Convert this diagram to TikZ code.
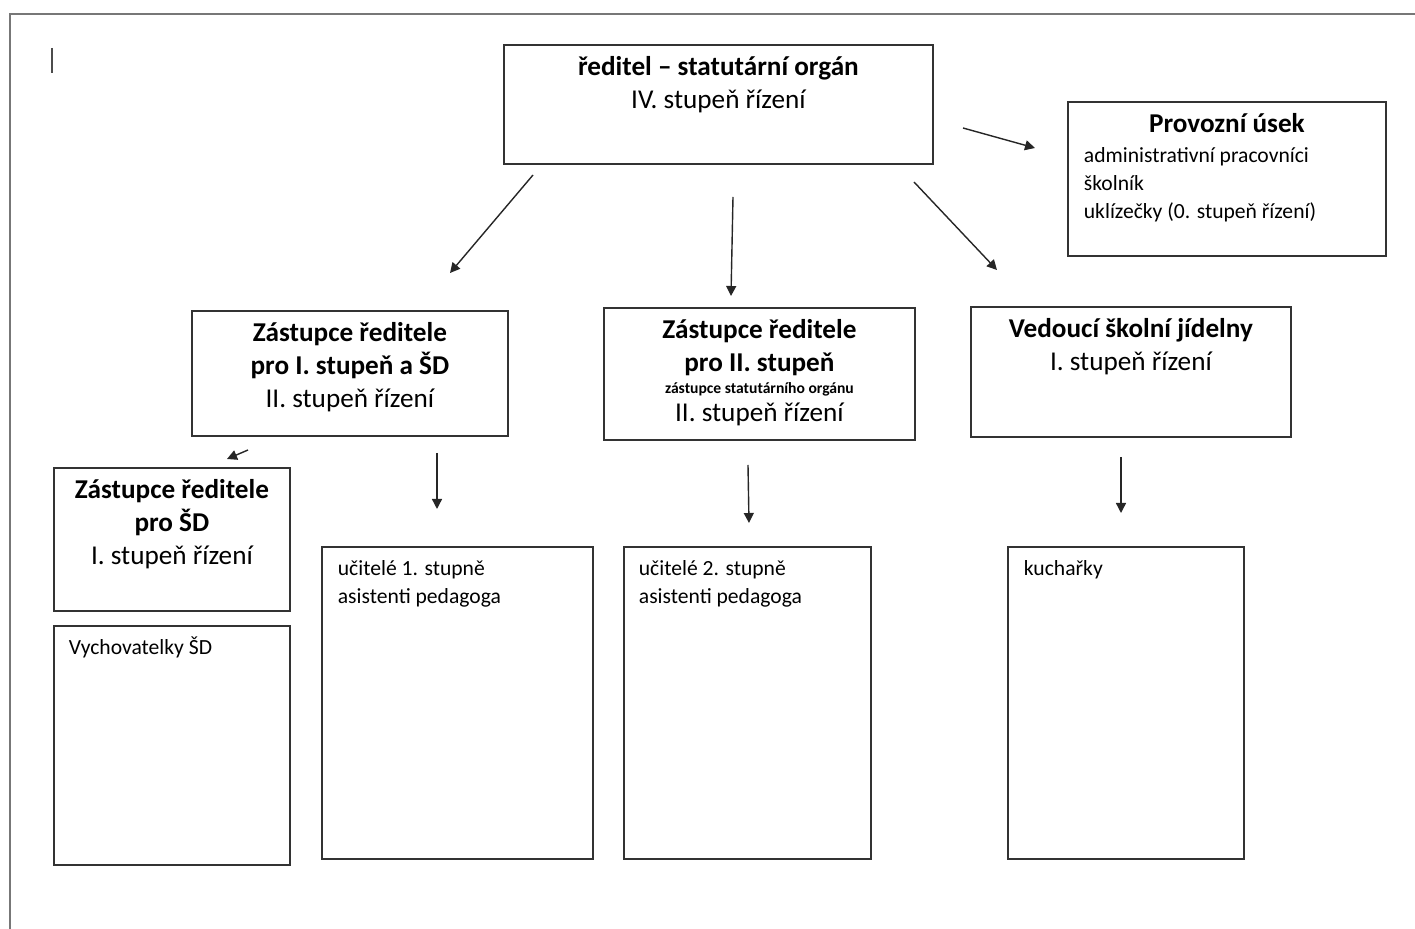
\documentclass[tikz,border=0pt]{standalone}
\usepackage{fontspec}
\setmainfont{Carlito}
\usetikzlibrary{arrows.meta,calc}

\definecolor{ramgray}{HTML}{777777}
\newcommand{\velky}{\fontsize{13.6}{16.5}\selectfont}
\newcommand{\maly}{\fontsize{10.8}{14}\selectfont}
\newcommand{\drobny}{\fontsize{7.8}{11}\selectfont}
\newcommand{\prvni}{\rule{0pt}{15.5pt}}
\newcommand{\prvnim}{\rule{0pt}{14.5pt}}

\tikzset{
  unit/.style={draw=black!80, line width=0.9pt, inner sep=0pt, anchor=north west},
  link/.style={-{Triangle[length=5pt,width=5pt]}, line width=0.7pt, black!85},
}

\begin{document}
\begin{tikzpicture}[x=0.5pt,y=-0.5pt]
\useasboundingbox (0,0) rectangle (1415,929);
\draw[ramgray, line width=1pt] (10,929) -- (10,14) -- (1415,14);
\draw[black!70, line width=0.8pt] (52,48) -- (52,73);

\node[unit] (reditel) at (503,44) {\parbox[c][59.5pt][t]{214.5pt}{\centering\velky\prvni
  \textbf{ředitel – statutární orgán}\\ IV. stupeň řízení}};
\node[unit] (provoz) at (1067,101) {\parbox[c][77pt][t]{159pt}{\centering\velky\prvni
  \textbf{Provozní úsek}\par\vspace{1pt}
  \raggedright\leftskip=8pt\maly administrativní pracovníci\\ školník\\ uklízečky (0. stupeň řízení)\par}};
\node[unit] (zastI) at (191,310) {\parbox[c][62.5pt][t]{158pt}{\centering\velky\prvni
  \textbf{Zástupce ředitele}\\ \textbf{pro I. stupeň a ŠD}\\ II. stupeň řízení}};
\node[unit] (zastII) at (603,307) {\parbox[c][66pt][t]{155.5pt}{\centering\velky\prvni
  \textbf{Zástupce ředitele}\\ \textbf{pro II. stupeň}\par
  {\drobny\textbf{zástupce statutárního orgánu}\par}
  {\fontsize{13.6}{14}\selectfont II. stupeň řízení\par}}};
\node[unit] (jidelna) at (970,306) {\parbox[c][65pt][t]{160pt}{\centering\velky\prvni
  \textbf{Vedoucí školní jídelny}\\ I. stupeň řízení}};
\node[unit] (zastSD) at (53,467) {\parbox[c][71.5pt][t]{118pt}{\centering\velky\prvni
  \textbf{Zástupce ředitele}\\ \textbf{pro ŠD}\\ I. stupeň řízení}};
\node[unit] (vychov) at (53,625) {\parbox[c][119.5pt][t]{118pt}{\raggedright\leftskip=7.5pt\maly\prvnim
  Vychovatelky ŠD}};
\node[unit] (ucitele1) at (321,546) {\parbox[c][156pt][t]{135.5pt}{\raggedright\leftskip=8pt\maly\prvnim
  učitelé 1. stupně\\ asistenti pedagoga}};
\node[unit] (ucitele2) at (623,546) {\parbox[c][156pt][t]{123.5pt}{\raggedright\leftskip=7.5pt\maly\prvnim
  učitelé 2. stupně\\ asistenti pedagoga}};
\node[unit] (kuchar) at (1007,546) {\parbox[c][156pt][t]{118pt}{\raggedright\leftskip=8pt\maly\prvnim
  kuchařky}};

% sipky
\coordinate (r1) at (533,175);  \coordinate (z1) at (450,273);
\coordinate (r2) at (733,197);  \coordinate (z2) at (731,296);
\coordinate (r3) at (914,182);  \coordinate (z3) at (997,270);
\coordinate (r4) at (963,128);  \coordinate (z4) at (1035,148);
\coordinate (s1) at (248,450);  \coordinate (t1) at (227,459);
\coordinate (s2) at (437,453);  \coordinate (t2) at (437,509);
\coordinate (s3) at (748,465);  \coordinate (t3) at (749,523);
\coordinate (s4) at (1121,457); \coordinate (t4) at (1121,513);
\draw[link] (r1) -- (z1);
\draw[link] (r2) -- (z2);
\draw[link] (r3) -- (z3);
\draw[link] (r4) -- (z4);
\draw[link] (s1) -- (t1);
\draw[link] (s2) -- (t2);
\draw[link] (s3) -- (t3);
\draw[link] (s4) -- (t4);
\end{tikzpicture}
\end{document}
